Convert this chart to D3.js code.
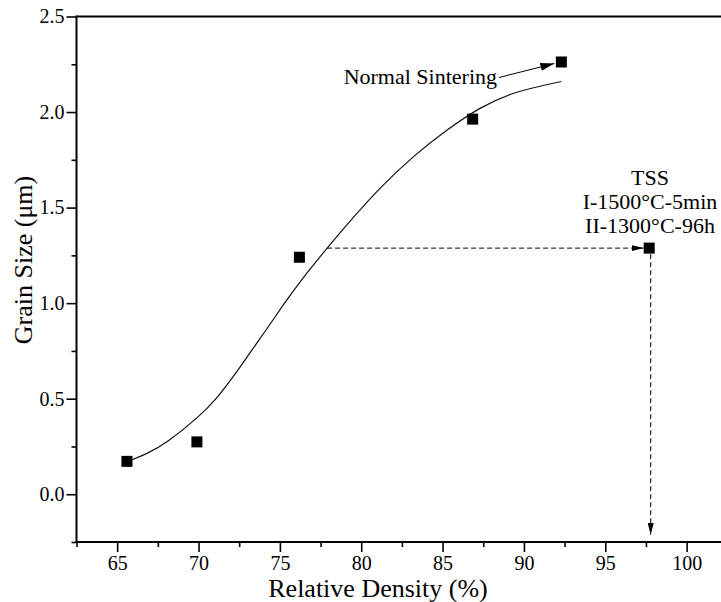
<!DOCTYPE html>
<html>
<head>
<meta charset="utf-8">
<script src="https://cdn.jsdelivr.net/npm/d3@7"></script>
<style>
  html, body { margin: 0; padding: 0; background: #fff; overflow: hidden; }
  svg { display: block; }
  svg text { font-family: 'Liberation Serif', 'Times New Roman', Times, 'DejaVu Serif', serif; }
</style>
</head>
<body>
<svg id="chart" width="721" height="602"></svg>
<script>
// Measured samples: relative density (%) vs. grain size (µm)
const density = [65.6, 69.9, 76.2, 86.85, 92.3];
const grainSize = [0.172, 0.274, 1.24, 1.963, 2.262];

// Two-step sintering sample
const tssDensity = [97.7];
const tssGrain = [1.288];
const tssLabel = ["TSS", "I-1500°C-5min", "II-1300°C-96h"];

// Trend curve through the normal-sintering samples
const fitDensity = [65.6, 66.8, 68.0, 70.1, 71.1, 72.1, 73.2, 74.2, 75.2, 76.2, 77.9, 79.1, 81.2, 83.2, 85.3, 87.3, 89.3, 92.3];
const fitGrain   = [0.17, 0.21, 0.265, 0.41, 0.50, 0.61, 0.745, 0.865, 0.99, 1.11, 1.288, 1.41, 1.61, 1.77, 1.91, 2.025, 2.105, 2.16];

// Axis ticks
const xMajor = [65, 70, 75, 80, 85, 90, 95, 100];
const xMinor = [62.5, 67.5, 72.5, 77.5, 82.5, 87.5, 92.5, 97.5];
const yMajor = [0.0, 0.5, 1.0, 1.5, 2.0, 2.5];
const yMinor = [-0.25, 0.25, 0.75, 1.25, 1.75, 2.25];

const serif = "'Liberation Serif', 'Times New Roman', Times, 'DejaVu Serif', serif";
const svg = d3.select("#chart").attr("font-family", serif);
const plotLeft = 76.5, plotRight = 727.3, plotTop = 16.5, plotBottom = 542;

const x = d3.scaleLinear().domain([62.5, 102.5]).range([plotLeft, plotRight]);
const y = d3.scaleLinear().domain([-0.25, 2.5]).range([plotBottom, plotTop]);

// Arrowhead markers
const defs = svg.append("defs");
defs.append("marker").attr("id", "arrowSmall")
  .attr("viewBox", "0 0 12 6").attr("refX", 12).attr("refY", 3)
  .attr("markerWidth", 12).attr("markerHeight", 6).attr("markerUnits", "userSpaceOnUse")
  .attr("orient", "auto")
  .append("path").attr("d", "M0,0 L12,3 L0,6 Z").attr("fill", "#000");
defs.append("marker").attr("id", "arrowLarge")
  .attr("viewBox", "0 0 14 8").attr("refX", 14).attr("refY", 4)
  .attr("markerWidth", 14).attr("markerHeight", 8).attr("markerUnits", "userSpaceOnUse")
  .attr("orient", "auto")
  .append("path").attr("d", "M0,0 L14,4 L0,8 Z").attr("fill", "#000");

// Axes
const xAxisMajor = d3.axisBottom(x).tickValues(xMajor).tickSize(10).tickPadding(4).tickFormat(d3.format("d"));
const xAxisMinor = d3.axisBottom(x).tickValues(xMinor).tickSize(5).tickFormat("");
const yAxisMajor = d3.axisLeft(y).tickValues(yMajor).tickSize(10).tickPadding(2).tickFormat(d3.format(".1f"));
const yAxisMinor = d3.axisLeft(y).tickValues(yMinor).tickSize(5).tickFormat("");

function styleAxis(g) {
  g.attr("font-family", serif).attr("font-size", 20);
  g.select(".domain").remove();
  g.selectAll(".tick line").attr("stroke", "#000").attr("stroke-width", 1.6);
  g.selectAll(".tick text").attr("fill", "#000").attr("font-family", serif).attr("font-size", 20);
}

svg.append("g").attr("transform", `translate(0,${plotBottom})`).call(xAxisMinor).call(styleAxis);
svg.append("g").attr("transform", `translate(0,${plotBottom})`).call(xAxisMajor).call(styleAxis);
svg.append("g").attr("transform", `translate(${plotLeft},0)`).call(yAxisMinor).call(styleAxis);
svg.append("g").attr("transform", `translate(${plotLeft},0)`).call(yAxisMajor).call(styleAxis);

// Frame lines
svg.append("line").attr("x1", plotLeft).attr("x2", plotRight).attr("y1", plotBottom).attr("y2", plotBottom)
  .attr("stroke", "#000").attr("stroke-width", 2);
svg.append("line").attr("x1", plotLeft).attr("x2", plotRight).attr("y1", plotTop).attr("y2", plotTop)
  .attr("stroke", "#000").attr("stroke-width", 2);
svg.append("line").attr("x1", plotLeft).attr("x2", plotLeft).attr("y1", plotTop - 1).attr("y2", plotBottom + 1)
  .attr("stroke", "#000").attr("stroke-width", 2);
svg.append("line").attr("x1", plotRight).attr("x2", plotRight).attr("y1", plotTop - 1).attr("y2", plotBottom + 1)
  .attr("stroke", "#000").attr("stroke-width", 2);

// Axis titles
svg.append("text").attr("x", 378).attr("y", 597).attr("text-anchor", "middle")
  .attr("font-size", 26).attr("fill", "#000").text("Relative Density (%)");
svg.append("text").attr("transform", `translate(32,${260}) rotate(-90)`).attr("text-anchor", "middle")
  .attr("font-size", 26).attr("fill", "#000").text("Grain Size (μm)");

// Trend curve
const fit = fitDensity.map((d, i) => [d, fitGrain[i]]);
svg.append("path").datum(fit)
  .attr("d", d3.line().x(d => x(d[0])).y(d => y(d[1])).curve(d3.curveBasis))
  .attr("fill", "none").attr("stroke", "#111").attr("stroke-width", 1.2);

// Dashed guides from the curve to the TSS sample and down to the density axis
const tx = x(tssDensity[0]), ty = y(tssGrain[0]);
svg.append("line").attr("x1", x(77.9)).attr("y1", ty).attr("x2", tx - 5.5).attr("y2", ty)
  .attr("stroke", "#000").attr("stroke-width", 1).attr("stroke-dasharray", "5,3")
  .attr("marker-end", "url(#arrowSmall)");
svg.append("line").attr("x1", tx + 1.5).attr("y1", ty + 6).attr("x2", tx + 1.5).attr("y2", plotBottom - 7)
  .attr("stroke", "#000").attr("stroke-width", 1).attr("stroke-dasharray", "5,3")
  .attr("marker-end", "url(#arrowSmall)");

// Sample markers
const pts = density.map((d, i) => [d, grainSize[i]]).concat([[tssDensity[0], tssGrain[0]]]);
svg.selectAll("rect.pt").data(pts).enter().append("rect").attr("class", "pt")
  .attr("x", d => x(d[0]) - 5.5).attr("y", d => y(d[1]) - 5.5)
  .attr("width", 11).attr("height", 11).attr("fill", "#000");

// "Normal Sintering" annotation
svg.append("text").attr("x", 497).attr("y", 84).attr("text-anchor", "end")
  .attr("font-size", 22).attr("fill", "#000").text("Normal Sintering");
svg.append("line").attr("x1", 499).attr("y1", 77.5)
  .attr("x2", x(density[4]) - 7).attr("y2", y(grainSize[4]) + 1.5)
  .attr("stroke", "#000").attr("stroke-width", 1).attr("marker-end", "url(#arrowLarge)");

// TSS annotation
const tssText = svg.append("text").attr("text-anchor", "middle").attr("font-size", 22).attr("fill", "#000");
tssLabel.forEach((t, i) => {
  tssText.append("tspan").attr("x", 650).attr("y", 185 + i * 24).text(t);
});
</script>
</body>
</html>
